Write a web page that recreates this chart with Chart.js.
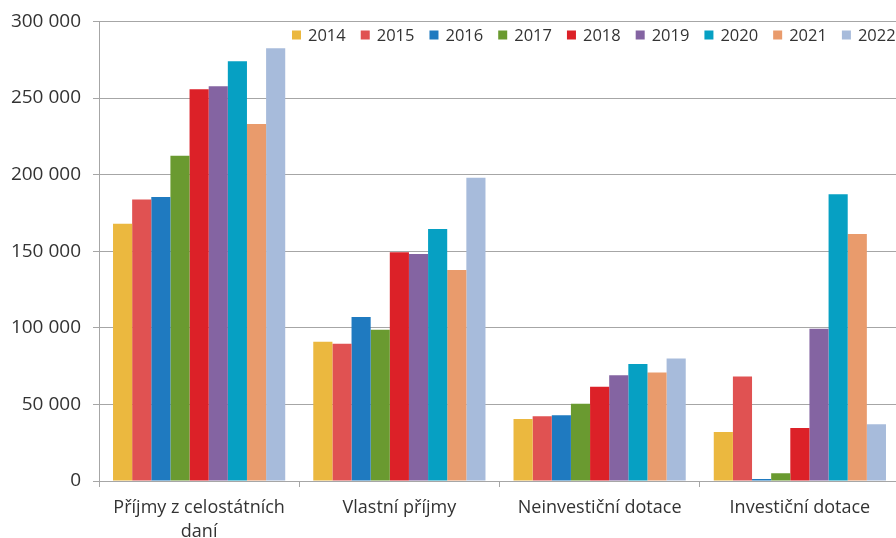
<!DOCTYPE html>
<html>
<head>
<meta charset="utf-8">
<script src="https://cdn.jsdelivr.net/npm/chart.js@4.4.1/dist/chart.umd.min.js"></script>
<style>
  html, body { margin: 0; padding: 0; background: #fff; overflow: hidden; }
  #wrap { width: 905px; height: 538px; position: relative; }
</style>
</head>
<body>
<div id="wrap"><canvas id="chart"></canvas></div>
<script>
const categories = [['Příjmy z celostátních', 'daní'], 'Vlastní příjmy', 'Neinvestiční dotace', 'Investiční dotace'];
const years = ['2014', '2015', '2016', '2017', '2018', '2019', '2020', '2021', '2022'];

// values per year, one per category
const v2014 = [168000, 90900, 40500, 32000];
const v2015 = [183800, 89600, 42200, 68200];
const v2016 = [185500, 107000, 42900, 1300];
const v2017 = [212300, 98700, 50400, 5000];
const v2018 = [255800, 149400, 61500, 34600];
const v2019 = [257800, 148200, 69000, 99400];
const v2020 = [274000, 164500, 76400, 187200];
const v2021 = [233100, 137700, 70800, 161200];
const v2022 = [282500, 198000, 79900, 37000];

const yTicks = [0, 50000, 100000, 150000, 200000, 250000, 300000];

const seriesValues = [v2014, v2015, v2016, v2017, v2018, v2019, v2020, v2021, v2022];
const colors = ['#ebb83f', '#e05252', '#1f7ac0', '#6a9a30', '#dc2128', '#8464a2', '#06a0c3', '#e99b6c', '#a7bbdb'];

const fmt = v => String(v).replace(/\B(?=(\d{3})+(?!\d))/g, ' ');

// legend drawn over the plot, top right, like the original
const overlayLegend = {
  id: 'overlayLegend',
  afterDraw(chart) {
    const c = chart.ctx;
    c.save();
    c.font = '16.5px "Open Sans"';
    c.textBaseline = 'middle';
    let x = 292;
    const y = 35;
    chart.data.datasets.forEach(ds => {
      c.fillStyle = ds.backgroundColor;
      c.fillRect(x, y - 4.5, 9, 9);
      c.fillStyle = '#333333';
      c.fillText(ds.label, x + 16, y + 1);
      x += 16 + c.measureText(ds.label).width + 15;
    });
    c.restore();
  }
};

const ctx = document.getElementById('chart').getContext('2d');
new Chart(ctx, {
  type: 'bar',
  data: {
    labels: categories,
    datasets: years.map((y, i) => ({
      label: y,
      data: seriesValues[i],
      backgroundColor: colors[i],
      borderWidth: 0,
      barPercentage: 1,
      categoryPercentage: 0.86
    }))
  },
  plugins: [overlayLegend],
  options: {
    responsive: true,
    maintainAspectRatio: false,
    animation: false,
    layout: { padding: { top: 17, right: 5, left: 0, bottom: 0 } },
    plugins: {
      tooltip: { enabled: false },
      legend: { display: false }
    },
    scales: {
      x: {
        grid: { display: true, drawOnChartArea: false, tickLength: 6, color: '#a6a6a6' },
        border: { color: '#a6a6a6' },
        ticks: { color: '#333333', padding: 9, font: { family: 'Open Sans', size: 18, lineHeight: 1.33 }, maxRotation: 0 },
        afterFit: s => { s.height = 57; }
      },
      y: {
        min: 0,
        max: 300000,
        afterBuildTicks: s => { s.ticks = yTicks.map(v => ({ value: v })); },
        grid: { color: '#a6a6a6', tickLength: 6 },
        border: { color: '#a6a6a6' },
        ticks: { color: '#333333', padding: 12, font: { family: 'Open Sans', size: 19, lineHeight: 1 }, callback: v => fmt(v) },
        afterFit: s => { s.width = 99; }
      }
    }
  }
});
</script>
</body>
</html>
